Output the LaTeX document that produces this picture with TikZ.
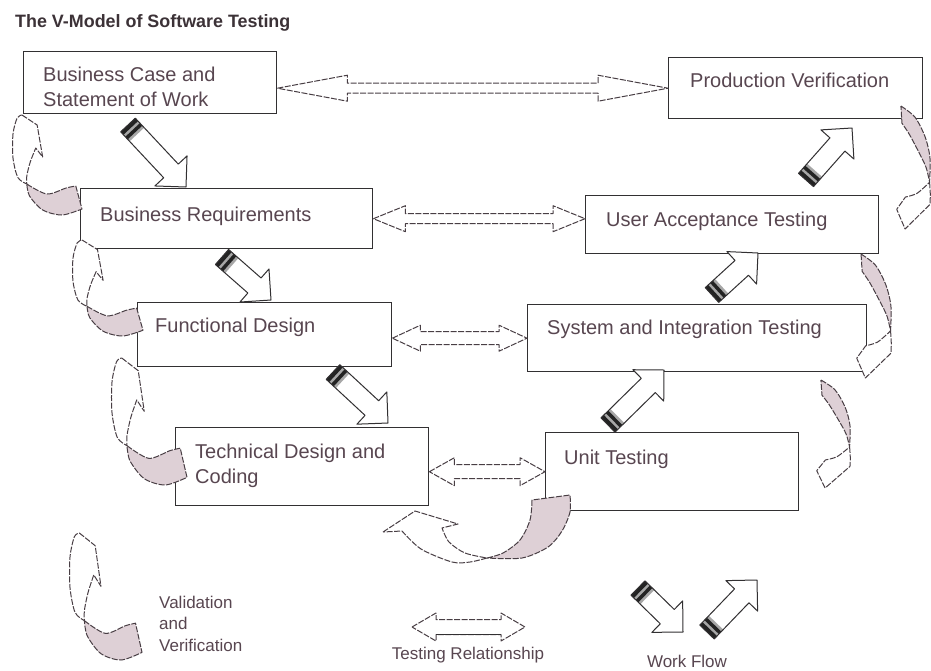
\documentclass[tikz,border=0pt]{standalone}
\usepackage{fontspec}
\setmainfont{Liberation Sans}
\usetikzlibrary{calc}
\definecolor{txt}{RGB}{88,70,80}
\definecolor{ttl}{RGB}{60,50,55}
\definecolor{edge}{RGB}{50,48,50}
\definecolor{arr}{RGB}{72,62,68}
\definecolor{shade}{RGB}{222,208,214}
\definecolor{stripe}{RGB}{35,35,35}
\tikzset{
 box/.style={draw=edge, line width=1.4pt, fill=white, inner sep=0pt, anchor=north west},
 lbl/.style={text=txt, font=\fontsize{20}{25}\selectfont, inner sep=0pt},
 lgd/.style={text=txt, font=\fontsize{17}{21.5}\selectfont, inner sep=0pt},
 vv/.style={draw=arr, line width=1pt, dash pattern=on 6pt off 1.5pt, fill=white, line join=round},
 vvsh/.style={vv, fill=shade},
 tr/.style={draw=arr, line width=1pt, dash pattern=on 6pt off 1.5pt, fill=white, line join=round},
 wfa/.style={fill=white},
 wfo/.style={draw=edge, line width=1pt, line join=round},
}
% curved validation arrow, head up (left side)
\newcommand\vvL[4]{%
\begin{scope}[shift={(#1,#2)},xscale=#3,yscale=#4]
\path[vvsh] (0.2,0.69) -- plot[smooth] coordinates {(0.2,0.69) (0.49,0.79) (0.77,0.73) (0.91,0.71)} -- (1,0.94) -- plot[smooth] coordinates {(1,0.94) (0.71,1.0) (0.43,0.95) (0.24,0.81) (0.2,0.69)} -- cycle;
\path[vv] (0.13,0) -- (0.35,0.1) -- (0.43,0.42) -- (0.33,0.33) -- plot[smooth] coordinates {(0.33,0.33) (0.25,0.47) (0.2,0.61) (0.2,0.69)} -- plot[smooth] coordinates {(0.2,0.69) (0.07,0.625) (0,0.43) (0,0.19) (0.06,0.03) (0.13,0)} -- cycle;
\end{scope}}
% curved validation arrow, head down (right side)
\newcommand\vvR[4]{%
\begin{scope}[shift={(#1,#2)},xscale=#3,yscale=#4]
\path[vvsh] (0.14,0) -- plot[smooth] coordinates {(0.14,0) (0.54,0.09) (0.83,0.25) (0.97,0.42) (0.96,0.62)} -- plot[smooth] coordinates {(0.96,0.62) (0.86,0.5) (0.66,0.38) (0.38,0.23) (0.17,0.14)} -- cycle;
\path[vv] (0.96,0.62) -- plot[smooth] coordinates {(0.96,0.62) (0.98,0.72) (0.97,0.8)} -- (0.26,1) -- (0.02,0.84) -- (0.27,0.74) -- plot[smooth] coordinates {(0.27,0.74) (0.6,0.71) (0.96,0.62)} -- cycle;
\end{scope}}
% double testing arrow: left, right, shaft half, head half, head length
\newcommand\dbl[5]{%
\path[tr] (#1) -- ($(#1)+(#5,-#4)$) -- ($(#1)+(#5,-#3)$) -- ($(#2)+(-#5,-#3)$) -- ($(#2)+(-#5,-#4)$) -- (#2) -- ($(#2)+(-#5,#4)$) -- ($(#2)+(-#5,#3)$) -- ($(#1)+(#5,#3)$) -- ($(#1)+(#5,#4)$) -- cycle;}
% work flow block arrow: tail, tip
\newcommand\wf[2]{%
\coordinate (wfh) at ($(#2)!22pt!(#1)$);
\coordinate (wa1) at ($(#1)!10pt!90:(#2)$);
\coordinate (wa2) at ($(#1)!10pt!-90:(#2)$);
\coordinate (wh1) at ($(wfh)!10pt!90:(#2)$);
\coordinate (wh2) at ($(wfh)!10pt!-90:(#2)$);
\coordinate (wb1) at ($(wfh)!22pt!90:(#2)$);
\coordinate (wb2) at ($(wfh)!22pt!-90:(#2)$);
\path[wfa] (wa1) -- (wh1) -- (wb1) -- (#2) -- (wb2) -- (wh2) -- (wa2) -- cycle;
\fill[stripe!40] (wa1) -- ($(wa1)!13pt!(wh1)$) -- ($(wa2)!13pt!(wh2)$) -- (wa2) -- cycle;
\draw[stripe, line width=4pt] ($(wa1)!2pt!(wh1)$) -- ($(wa2)!2pt!(wh2)$);
\draw[stripe, line width=3.5pt] ($(wa1)!8.5pt!(wh1)$) -- ($(wa2)!8.5pt!(wh2)$);
\path[wfo] (wa1) -- (wh1) -- (wb1) -- (#2) -- (wb2) -- (wh2) -- (wa2) -- cycle;}
\begin{document}
\begin{tikzpicture}[x=1pt,y=-1pt]
\useasboundingbox (0,0) rectangle (931,670);
\fill[white] (0,0) rectangle (931,670);
\node[anchor=base west, inner sep=0pt, text=ttl, font=\fontsize{17.9}{21}\selectfont\bfseries] (title) at (15,27) {The V-Model of Software Testing};
% boxes
\node[box, minimum width=253pt, minimum height=62pt] (b1) at (23,51) {};
\node[box, minimum width=254pt, minimum height=61pt] (b2) at (668,57) {};
\node[box, minimum width=292pt, minimum height=60pt] (b3) at (80,188) {};
\node[box, minimum width=293pt, minimum height=58pt] (b4) at (585,195) {};
\node[box, minimum width=254pt, minimum height=64pt] (b5) at (137,302) {};
\node[box, minimum width=339pt, minimum height=67pt] (b6) at (527,304) {};
\node[box, minimum width=253pt, minimum height=78pt] (b7) at (175,427) {};
\node[box, minimum width=253pt, minimum height=78pt] (b8) at (545,432) {};
% labels
\node[lbl, anchor=north west, align=left] (t1) at (43,66.4) {Business Case and\\Statement of Work};
\node[lbl, anchor=base west] (t2) at (690,87) {Production Verification};
\node[lbl, anchor=base west] (t3) at (100,221) {Business Requirements};
\node[lbl, anchor=base west] (t4) at (606,226) {User Acceptance Testing};
\node[lbl, anchor=base west] (t5) at (155,332) {Functional Design};
\node[lbl, anchor=base west] (t6) at (547,334) {System and Integration Testing};
\node[lbl, anchor=north west, align=left] (t7) at (195,443.4) {Technical Design and\\Coding};
\node[lbl, anchor=base west] (t8) at (564,464) {Unit Testing};
% legend labels
\node[lgd, anchor=north west, align=left] (lg1) at (159,595.6) {Validation\\and\\Verification};
\node[lgd, anchor=base] (lg2) at (468,659) {Testing Relationship};
\node[lgd, anchor=base] (lg3) at (687,667) {Work Flow};
% testing relationships
\coordinate (d1l) at (b1.east |- b2.west);
\coordinate (d1r) at (b2.west);
\dbl{d1l}{d1r}{5}{13}{70}
\coordinate (d2l) at (b3.east);
\coordinate (d2r) at (b3.east -| b4.west);
\dbl{d2l}{d2r}{5}{13}{32}
\coordinate (d3l) at (b5.east |- b6.west);
\coordinate (d3r) at (b6.west);
\dbl{d3l}{d3r}{6.5}{13}{28}
\coordinate (d4l) at (b7.east |- b8.west);
\coordinate (d4r) at (b8.west);
\dbl{d4l}{d4r}{7}{14}{25}
\coordinate (l1) at (412,627);
\coordinate (l2) at (525,627);
\dbl{l1}{l2}{7.5}{14}{24}
\draw[edge, line width=1.8pt] ($(l1)+(24,7.5)$) -- ($(l2)+(-24,7.5)$);
% work flow
\coordinate (w1a) at (128,125); \coordinate (w1b) at (186,187); \wf{w1a}{w1b}
\coordinate (w2a) at (222,257); \coordinate (w2b) at (271,300); \wf{w2a}{w2b}
\coordinate (w3a) at (333,372); \coordinate (w3b) at (388,423); \wf{w3a}{w3b}
\coordinate (w4a) at (608,425); \coordinate (w4b) at (664,370); \wf{w4a}{w4b}
\coordinate (w5a) at (712,295); \coordinate (w5b) at (758,253); \wf{w5a}{w5b}
\coordinate (w6a) at (806,180); \coordinate (w6b) at (852,128); \wf{w6a}{w6b}
\coordinate (w7a) at (638,588); \coordinate (w7b) at (683,632); \wf{w7a}{w7b}
\coordinate (w8a) at (707,632); \coordinate (w8b) at (757,580); \wf{w8a}{w8b}
% validation and verification
\vvL{13}{115}{69}{100}
\vvL{73}{240}{70}{96}
\vvL{112}{358}{75}{127}
\vvL{70}{533}{72}{127}
\vvR{896}{106}{35}{123}
\vvR{856}{254}{36}{124}
\vvR{816}{380}{35}{108}
\path[vvsh] (487,558) -- plot[smooth] coordinates {(487,558) (503,553) (520,540) (530,520) (532,500)} -- (570,495) -- plot[smooth] coordinates {(570,495) (570,512) (562,531) (548,547) (522,558) (487,558)} -- cycle;
\path[vv] (383,532) -- (415,511) -- (458,524) -- (442,528) -- plot[smooth] coordinates {(442,528) (449,542) (465,553) (487,558)} -- plot[smooth] coordinates {(487,558) (470,562) (452,562) (421,549) (402,531)} -- cycle;
\end{tikzpicture}
\end{document}
